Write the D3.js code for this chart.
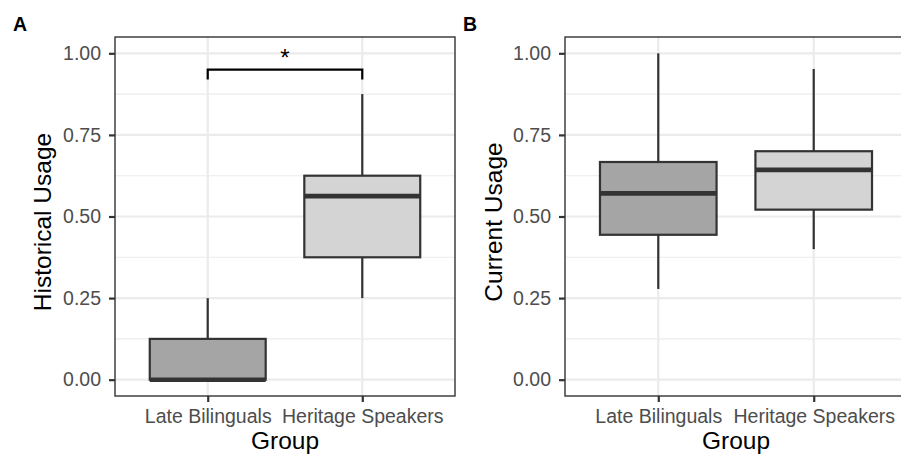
<!DOCTYPE html>
<html>
<head>
<meta charset="utf-8">
<title>Historical and Current Usage by Group</title>
<style>
    body { margin: 0; background: #fff; }
    svg { font-family: "Liberation Sans", Arial, Helvetica, sans-serif; display: block; }
</style>
</head>
<body>
<svg width="901" height="457"></svg>
<script src="https://cdn.jsdelivr.net/npm/d3@7"></script>
<script>

    // data
    var groups = ["Late Bilinguals", "Heritage Speakers"];
    var fills = ["#a5a5a5", "#d4d4d4"];

    var histLower = [0.00, 0.25],
        histQ1 = [0.00, 0.375],
        histMedian = [0.00, 0.5625],
        histQ3 = [0.125, 0.625],
        histUpper = [0.25, 0.875];

    var curLower = [0.278, 0.40],
        curQ1 = [0.444, 0.521],
        curMedian = [0.571, 0.643],
        curQ3 = [0.667, 0.70],
        curUpper = [1.00, 0.952];

    var yTicks = [0, 0.25, 0.5, 0.75, 1];
    var yMinor = [0.125, 0.375, 0.625, 0.875];

    // significance bracket for panel A
    var sigPair = [0, 1], sigY = 0.95, sigTip = 0.03, sigLabel = "*";

    var svg = d3.select("svg");

    function boxRows(lo, q1, med, q3, hi) {
        return groups.map(function(g, i) {
            return {group: g, fill: fills[i], lower: lo[i], q1: q1[i], median: med[i], q3: q3[i], upper: hi[i]};
        });
    }

    var panels = [
        {tag: "A", left: 115, right: 455, title: "Historical Usage", titleX: 51,
            rows: boxRows(histLower, histQ1, histMedian, histQ3, histUpper), sig: true},
        {tag: "B", left: 565, right: 907, title: "Current Usage", titleX: 501.5,
            rows: boxRows(curLower, curQ1, curMedian, curQ3, curUpper), sig: false}
    ];

    var plotTop = 37, plotBottom = 396;

    var y = d3.scaleLinear().domain([-0.05, 1.05]).range([plotBottom, plotTop]);

    panels.forEach(function(p) {
        var x = d3.scalePoint().domain(groups).range([p.left, p.right]).padding(0.6);
        var bw = x.step() * 0.75;
        var g = svg.append("g");

        // grid
        g.selectAll(".minor").data(yMinor).enter().append("line")
            .attr("x1", p.left).attr("x2", p.right)
            .attr("y1", function(d) { return y(d); }).attr("y2", function(d) { return y(d); })
            .attr("stroke", "#ebebeb").attr("stroke-width", 1.1);
        g.selectAll(".major").data(yTicks).enter().append("line")
            .attr("x1", p.left).attr("x2", p.right)
            .attr("y1", function(d) { return y(d); }).attr("y2", function(d) { return y(d); })
            .attr("stroke", "#ebebeb").attr("stroke-width", 2.2);
        g.selectAll(".vgrid").data(groups).enter().append("line")
            .attr("x1", function(d) { return x(d); }).attr("x2", function(d) { return x(d); })
            .attr("y1", plotTop).attr("y2", plotBottom)
            .attr("stroke", "#ebebeb").attr("stroke-width", 2.2);

        // boxes
        var box = g.selectAll(".box").data(p.rows).enter().append("g");
        box.append("line")
            .attr("x1", function(d) { return x(d.group); }).attr("x2", function(d) { return x(d.group); })
            .attr("y1", function(d) { return y(d.upper); }).attr("y2", function(d) { return y(d.q3); })
            .attr("stroke", "#333").attr("stroke-width", 2.2);
        box.append("line")
            .attr("x1", function(d) { return x(d.group); }).attr("x2", function(d) { return x(d.group); })
            .attr("y1", function(d) { return y(d.q1); }).attr("y2", function(d) { return y(d.lower); })
            .attr("stroke", "#333").attr("stroke-width", 2.2);
        box.append("rect")
            .attr("x", function(d) { return x(d.group) - bw / 2; })
            .attr("width", bw)
            .attr("y", function(d) { return y(d.q3); })
            .attr("height", function(d) { return y(d.q1) - y(d.q3); })
            .attr("fill", function(d) { return d.fill; })
            .attr("stroke", "#333").attr("stroke-width", 2.2);
        box.append("line")
            .attr("x1", function(d) { return x(d.group) - bw / 2; })
            .attr("x2", function(d) { return x(d.group) + bw / 2; })
            .attr("y1", function(d) { return y(d.median); }).attr("y2", function(d) { return y(d.median); })
            .attr("stroke", "#333").attr("stroke-width", 4.6);

        // panel border
        g.append("rect")
            .attr("x", p.left).attr("y", plotTop)
            .attr("width", p.right - p.left).attr("height", plotBottom - plotTop)
            .attr("fill", "none").attr("stroke", "#333").attr("stroke-width", 1.4);

        // axes
        var ya = g.append("g").attr("transform", "translate(" + p.left + ",0)")
            .call(d3.axisLeft(y).tickValues(yTicks).tickFormat(d3.format(".2f")).tickSize(6).tickPadding(8).tickSizeOuter(0));
        var xa = g.append("g").attr("transform", "translate(0," + plotBottom + ")")
            .call(d3.axisBottom(x).tickSize(6).tickPadding(8).tickSizeOuter(0));
        [ya, xa].forEach(function(a) {
            a.select(".domain").remove();
            a.selectAll(".tick line").attr("stroke", "#333").attr("stroke-width", 2.2);
            a.selectAll(".tick text").attr("fill", "#4d4d4d").style("font-size", "19.5px")
                .style("font-family", "'Liberation Sans', Arial, sans-serif");
        });
        xa.selectAll(".tick text").attr("dy", null).attr("y", 27);

        // titles
        g.append("text")
            .attr("x", (p.left + p.right) / 2).attr("y", 449)
            .attr("text-anchor", "middle").style("font-size", "24.5px").attr("fill", "#000")
            .text("Group");
        g.append("text")
            .attr("transform", "translate(" + p.titleX + "," + 222 + ") rotate(-90)")
            .attr("text-anchor", "middle").style("font-size", "24.5px").attr("fill", "#000")
            .text(p.title);
        g.append("text")
            .attr("x", p.left - 102).attr("y", 31)
            .style("font-size", "19.5px").style("font-weight", "bold")
            .text(p.tag);

        if (p.sig) {
            var xa0 = x(groups[sigPair[0]]), xa1 = x(groups[sigPair[1]]);
            g.append("path")
                .attr("d", "M" + xa0 + "," + y(sigY - sigTip) + "V" + y(sigY) + "H" + xa1 + "V" + y(sigY - sigTip))
                .attr("fill", "none").attr("stroke", "#000").attr("stroke-width", 2.2);
            g.append("text")
                .attr("x", (xa0 + xa1) / 2).attr("y", y(sigY) - 4)
                .attr("text-anchor", "middle").style("font-size", "24px")
                .text(sigLabel);
        }
    });

</script>
</body>
</html>
